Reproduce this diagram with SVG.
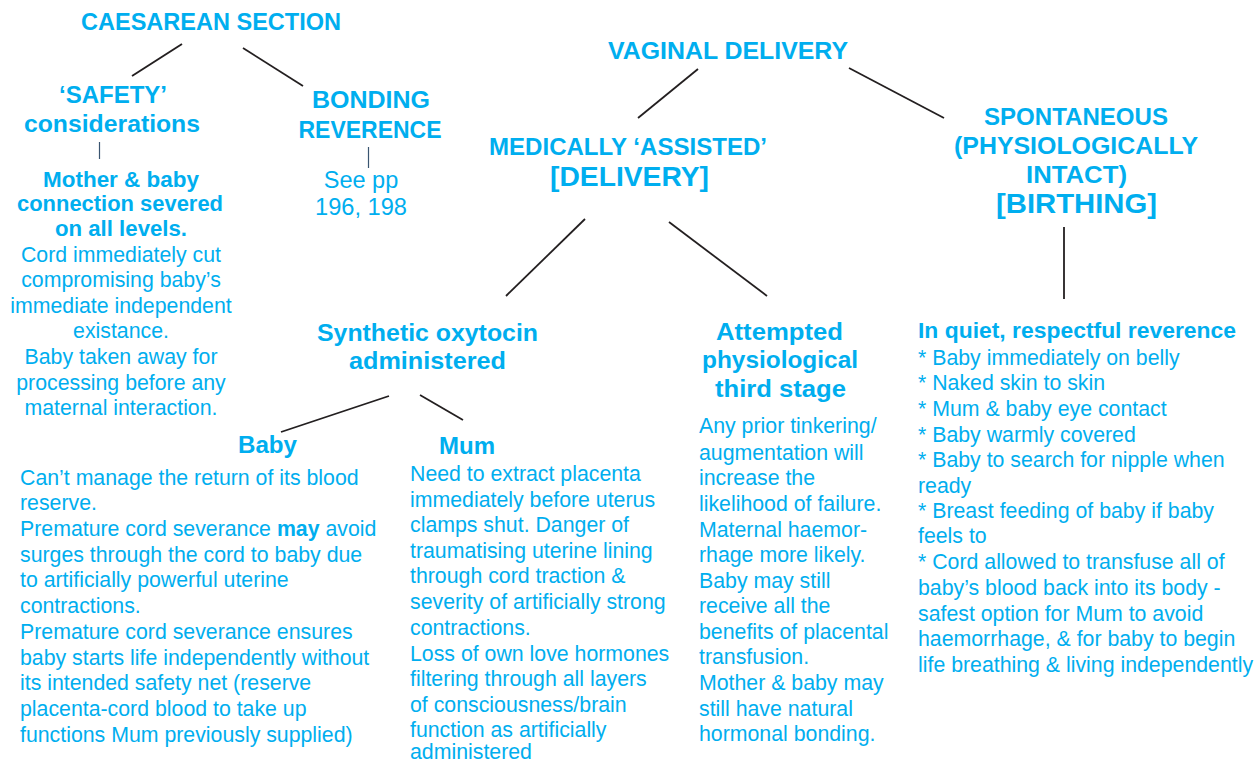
<svg xmlns="http://www.w3.org/2000/svg" width="1260" height="764" viewBox="0 0 1260 764">
<style>
text{font-family:"Liberation Sans",Arial,sans-serif;fill:#00aeef}
.h{font-weight:bold;font-size:24px;text-anchor:middle}
.hb{font-weight:bold;font-size:28.5px;text-anchor:middle}
.sb{font-weight:bold;font-size:22px}
.c{text-anchor:middle}
.b{font-size:21.3px}
.l{stroke:#231f20;stroke-width:1.8;fill:none}
.t{stroke:#3a5570;stroke-width:1.2;fill:none}
</style>
<rect width="1260" height="764" fill="#fff"/>
<g id="connectors">
<line class="l" x1="182" y1="44" x2="132" y2="76"/>
<line class="l" x1="243" y1="48" x2="303" y2="86"/>
<line class="t" x1="99.5" y1="142" x2="99.5" y2="159"/>
<line class="t" x1="368.5" y1="147" x2="368.5" y2="168"/>
<line class="l" x1="698" y1="69" x2="638" y2="118"/>
<line class="l" x1="849" y1="68" x2="944" y2="118"/>
<line class="l" x1="585" y1="219" x2="506" y2="296"/>
<line class="l" x1="669" y1="222" x2="767" y2="296"/>
<line class="l" x1="1064" y1="227" x2="1064" y2="299"/>
<line class="l" x1="389" y1="396" x2="281" y2="432"/>
<line class="l" x1="420" y1="395" x2="463" y2="420"/>
</g>
<g id="caesarean">
<text class="h" x="211" y="30" textLength="260" lengthAdjust="spacingAndGlyphs">CAESAREAN SECTION</text>
</g>
<g id="safety">
<text class="h" x="113" y="103" textLength="108" lengthAdjust="spacingAndGlyphs">‘SAFETY’</text>
<text class="h" x="112" y="132" textLength="176" lengthAdjust="spacingAndGlyphs">considerations</text>
</g>
<g id="safety-detail">
<text class="sb c" x="121" y="187" textLength="156" lengthAdjust="spacingAndGlyphs">Mother &amp; baby</text>
<text class="sb c" x="120" y="211" textLength="206" lengthAdjust="spacingAndGlyphs">connection severed</text>
<text class="sb c" x="121" y="236" textLength="132" lengthAdjust="spacingAndGlyphs">on all levels.</text>
<text class="b c" x="121" y="262">Cord immediately cut</text>
<text class="b c" x="121" y="287">compromising baby’s</text>
<text class="b c" x="121" y="313">immediate independent</text>
<text class="b c" x="121" y="338">existance.</text>
<text class="b c" x="121" y="364">Baby taken away for</text>
<text class="b c" x="121" y="390">processing before any</text>
<text class="b c" x="121" y="415">maternal interaction.</text>
</g>
<g id="bonding">
<text class="h" x="371" y="108" textLength="118" lengthAdjust="spacingAndGlyphs">BONDING</text>
<text class="h" x="370" y="138" textLength="143" lengthAdjust="spacingAndGlyphs">REVERENCE</text>
</g>
<g id="bonding-detail">
<text class="c" style="font-size:23.5px" x="361" y="188">See pp</text>
<text class="c" style="font-size:23.5px" x="361" y="215" textLength="92" lengthAdjust="spacingAndGlyphs">196, 198</text>
</g>
<g id="vaginal">
<text class="h" x="728" y="59" textLength="240" lengthAdjust="spacingAndGlyphs">VAGINAL DELIVERY</text>
</g>
<g id="assisted">
<text class="h" x="628" y="155" textLength="278" lengthAdjust="spacingAndGlyphs">MEDICALLY ‘ASSISTED’</text>
<text class="hb" x="629.5" y="186" textLength="159" lengthAdjust="spacingAndGlyphs">[DELIVERY]</text>
</g>
<g id="spontaneous">
<text class="h" x="1076" y="125" textLength="184" lengthAdjust="spacingAndGlyphs">SPONTANEOUS</text>
<text class="h" x="1076" y="154" textLength="244" lengthAdjust="spacingAndGlyphs">(PHYSIOLOGICALLY</text>
<text class="h" x="1076.5" y="183" textLength="101" lengthAdjust="spacingAndGlyphs">INTACT)</text>
<text class="hb" x="1076.5" y="213" textLength="161" lengthAdjust="spacingAndGlyphs">[BIRTHING]</text>
</g>
<g id="synthetic">
<text class="h" x="427.5" y="341" textLength="221" lengthAdjust="spacingAndGlyphs">Synthetic oxytocin</text>
<text class="h" x="427.5" y="369" textLength="157" lengthAdjust="spacingAndGlyphs">administered</text>
</g>
<g id="attempted">
<text class="h" x="779.5" y="340" textLength="127" lengthAdjust="spacingAndGlyphs">Attempted</text>
<text class="h" x="780" y="368" textLength="156" lengthAdjust="spacingAndGlyphs">physiological</text>
<text class="h" x="780.5" y="397" textLength="131" lengthAdjust="spacingAndGlyphs">third stage</text>
</g>
<g id="attempted-detail">
<text class="b" x="699" y="433">Any prior tinkering/</text>
<text class="b" x="699" y="460">augmentation will</text>
<text class="b" x="699" y="485">increase the</text>
<text class="b" x="699" y="511">likelihood of failure.</text>
<text class="b" x="699" y="537">Maternal haemor-</text>
<text class="b" x="699" y="562">rhage more likely.</text>
<text class="b" x="699" y="588">Baby may still</text>
<text class="b" x="699" y="613">receive all the</text>
<text class="b" x="699" y="639">benefits of placental</text>
<text class="b" x="699" y="664">transfusion.</text>
<text class="b" x="699" y="690">Mother &amp; baby may</text>
<text class="b" x="699" y="716">still have natural</text>
<text class="b" x="699" y="741">hormonal bonding.</text>
</g>
<g id="baby">
<text class="h" x="267.5" y="453" textLength="59" lengthAdjust="spacingAndGlyphs">Baby</text>
<text class="b" x="20" y="485">Can’t manage the return of its blood</text>
<text class="b" x="20" y="510">reserve.</text>
<text class="b" x="20" y="536">Premature cord severance <tspan font-weight="bold">may</tspan> avoid</text>
<text class="b" x="20" y="562">surges through the cord to baby due</text>
<text class="b" x="20" y="587">to artificially powerful uterine</text>
<text class="b" x="20" y="613">contractions.</text>
<text class="b" x="20" y="639">Premature cord severance ensures</text>
<text class="b" x="20" y="665">baby starts life independently without</text>
<text class="b" x="20" y="690">its intended safety net (reserve</text>
<text class="b" x="20" y="716">placenta-cord blood to take up</text>
<text class="b" x="20" y="742">functions Mum previously supplied)</text>
</g>
<g id="mum">
<text class="h" x="467" y="454" textLength="56" lengthAdjust="spacingAndGlyphs">Mum</text>
<text class="b" x="410" y="481">Need to extract placenta</text>
<text class="b" x="410" y="507">immediately before uterus</text>
<text class="b" x="410" y="532">clamps shut. Danger of</text>
<text class="b" x="410" y="558">traumatising uterine lining</text>
<text class="b" x="410" y="583">through cord traction &amp;</text>
<text class="b" x="410" y="609">severity of artificially strong</text>
<text class="b" x="410" y="635">contractions.</text>
<text class="b" x="410" y="661">Loss of own love hormones</text>
<text class="b" x="410" y="686">filtering through all layers</text>
<text class="b" x="410" y="712">of consciousness/brain</text>
<text class="b" x="410" y="737">function as artificially</text>
<text class="b" x="410" y="759">administered</text>
</g>
<g id="birthing-detail">
<text class="sb" x="918" y="338" textLength="318" lengthAdjust="spacingAndGlyphs">In quiet, respectful reverence</text>
<text class="b" x="918" y="365">* Baby immediately on belly</text>
<text class="b" x="918" y="390">* Naked skin to skin</text>
<text class="b" x="918" y="416">* Mum &amp; baby eye contact</text>
<text class="b" x="918" y="442">* Baby warmly covered</text>
<text class="b" x="918" y="467">* Baby to search for nipple when</text>
<text class="b" x="918" y="493">ready</text>
<text class="b" x="918" y="518">* Breast feeding of baby if baby</text>
<text class="b" x="918" y="543">feels to</text>
<text class="b" x="918" y="569">* Cord allowed to transfuse all of</text>
<text class="b" x="918" y="595">baby’s blood back into its body -</text>
<text class="b" x="918" y="621">safest option for Mum to avoid</text>
<text class="b" x="918" y="646">haemorrhage, &amp; for baby to begin</text>
<text class="b" x="918" y="672">life breathing &amp; living independently</text>
</g>
</svg>
